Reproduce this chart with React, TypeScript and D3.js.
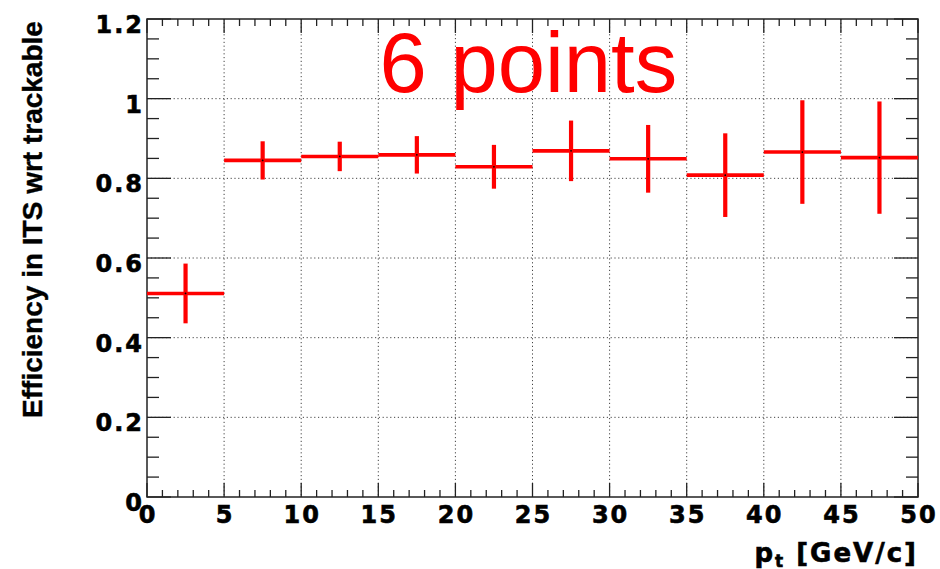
import * as d3 from "d3";

// pt bins (GeV/c) and efficiency with symmetric error
const binEdges = [0, 5, 10, 15, 20, 25, 30, 35, 40, 45, 50];
const efficiency = [0.511, 0.845, 0.855, 0.859, 0.829, 0.869, 0.849, 0.808, 0.866, 0.852];
const effError = [0.075, 0.048, 0.037, 0.047, 0.055, 0.076, 0.085, 0.105, 0.13, 0.141];

const yTickValues = [0, 0.2, 0.4, 0.6, 0.8, 1, 1.2];
const yTickLabels = ["0", "0.2", "0.4", "0.6", "0.8", "1", "1.2"];
const xTickValues = [0, 5, 10, 15, 20, 25, 30, 35, 40, 45, 50];
const xTickLabels = ["0", "5", "10", "15", "20", "25", "30", "35", "40", "45", "50"];

const W = 940;
const H = 569;
const frame = { left: 147, right: 918, top: 19, bottom: 497 };

const tickFont = "'DejaVu Sans', sans-serif";
const titleFont = "'Liberation Sans', Arial, sans-serif";

export default function App() {
  const x = d3.scaleLinear().domain([0, 50]).range([frame.left, frame.right]);
  const y = d3.scaleLinear().domain([0, 1.2]).range([frame.bottom, frame.top]);

  const xMinor = d3.range(0, 51, 1).filter((v) => v % 5 !== 0);
  const yMinor = d3
    .range(0, 1.2001, 0.05)
    .filter((v) => Math.abs(v / 0.2 - Math.round(v / 0.2)) > 1e-6);

  const gridColor = "#444";

  return (
    <svg
      width={W}
      height={H}
      style={{ position: "fixed", left: 0, top: 0, background: "#fff" }}
    >
      {/* dotted grid */}
      <g stroke={gridColor} strokeWidth={1} strokeDasharray="1.2,2.6">
        {xTickValues.slice(1, -1).map((v) => (
          <line key={"gx" + v} x1={x(v)} x2={x(v)} y1={frame.top} y2={frame.bottom} />
        ))}
        {yTickValues.slice(1, -1).map((v) => (
          <line key={"gy" + v} x1={frame.left} x2={frame.right} y1={y(v)} y2={y(v)} />
        ))}
      </g>

      {/* ticks, drawn inside the frame on all four sides */}
      <g stroke="#222" strokeWidth={1.3}>
        {xTickValues.map((v) => (
          <g key={"xt" + v}>
            <line x1={x(v)} x2={x(v)} y1={frame.bottom} y2={frame.bottom - 14} />
            <line x1={x(v)} x2={x(v)} y1={frame.top} y2={frame.top + 14} />
          </g>
        ))}
        {xMinor.map((v) => (
          <g key={"xm" + v}>
            <line x1={x(v)} x2={x(v)} y1={frame.bottom} y2={frame.bottom - 7} />
            <line x1={x(v)} x2={x(v)} y1={frame.top} y2={frame.top + 7} />
          </g>
        ))}
        {yTickValues.map((v) => (
          <g key={"yt" + v}>
            <line x1={frame.left} x2={frame.left + 24} y1={y(v)} y2={y(v)} />
            <line x1={frame.right} x2={frame.right - 24} y1={y(v)} y2={y(v)} />
          </g>
        ))}
        {yMinor.map((v) => (
          <g key={"ym" + v}>
            <line x1={frame.left} x2={frame.left + 12} y1={y(v)} y2={y(v)} />
            <line x1={frame.right} x2={frame.right - 12} y1={y(v)} y2={y(v)} />
          </g>
        ))}
      </g>

      {/* frame */}
      <rect
        x={frame.left}
        y={frame.top}
        width={frame.right - frame.left}
        height={frame.bottom - frame.top}
        fill="none"
        stroke="#222"
        strokeWidth={1.5}
      />

      {/* tick labels */}
      <g
        fontFamily={tickFont}
        fontWeight="bold"
        fontSize={24}
        letterSpacing={2}
        fill="#000"
        stroke="#000"
        strokeWidth={0.6}
      >
        {yTickValues.map((v, i) => (
          <text key={"yl" + v} x={frame.left - 3} y={y(v) + 14} textAnchor="end">
            {yTickLabels[i]}
          </text>
        ))}
        {xTickValues.map((v, i) => (
          <text key={"xl" + v} x={x(v) + 1} y={frame.bottom + 26} textAnchor="middle">
            {xTickLabels[i]}
          </text>
        ))}
      </g>

      {/* axis titles */}
      <text
        transform={`translate(42, ${(frame.top + 420) / 2}) rotate(-90)`}
        textAnchor="middle"
        fontFamily={titleFont}
        fontWeight="bold"
        fontSize={28}
        fill="#000"
        stroke="#000"
        strokeWidth={0.4}
      >
        Efficiency in ITS wrt trackable
      </text>
      <text
        x={frame.right}
        y={562}
        textAnchor="end"
        fontFamily={tickFont}
        fontWeight="bold"
        fontSize={26}
        letterSpacing={2}
        fill="#000"
        stroke="#000"
        strokeWidth={0.6}
      >
        p<tspan fontSize={17} dy={5}>t</tspan>
        <tspan dy={-5}> [GeV/c]</tspan>
      </text>

      {/* histogram points with error bars */}
      <g stroke="#ff0000">
        {efficiency.map((v, i) => {
          const lo = binEdges[i];
          const hi = binEdges[i + 1];
          const cx = x((lo + hi) / 2);
          return (
            <g key={"pt" + i}>
              <line x1={x(lo)} x2={x(hi)} y1={y(v)} y2={y(v)} strokeWidth={3.6} />
              <line
                x1={cx}
                x2={cx}
                y1={y(v - effError[i])}
                y2={y(v + effError[i])}
                strokeWidth={4.2}
              />
              <circle cx={cx} cy={y(v)} r={0.9} fill="#000" stroke="none" />
            </g>
          );
        })}
      </g>

      {/* annotation */}
      <text x={379.5} y={92} fontFamily={titleFont} fontSize={85} fill="#ff0000">
        6 points
      </text>
    </svg>
  );
}
